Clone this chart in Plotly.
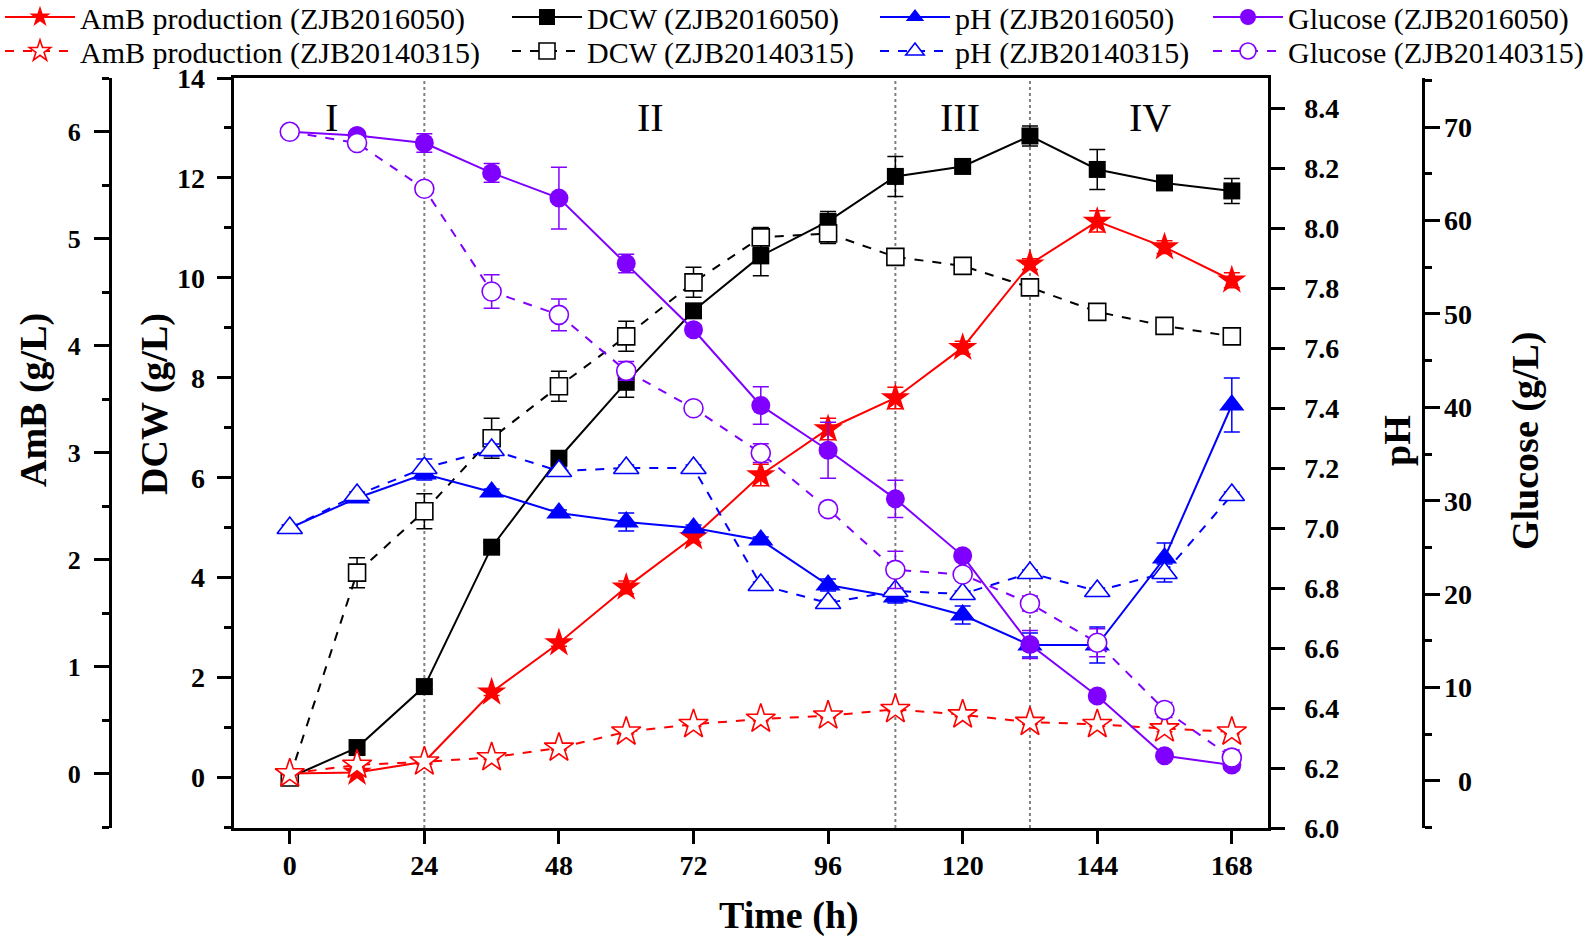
import plotly.graph_objects as go

# ---------------- data ----------------
time_h = [0, 12, 24, 36, 48, 60, 72, 84, 96, 108, 120, 132, 144, 156, 168]

amb_2016050 = [0.0, 0.01, 0.11, 0.76, 1.22, 1.74, 2.21, 2.79, 3.22, 3.51, 3.98, 4.76, 5.16, 4.92, 4.61]
amb_2016050_err = [0.01, 0.02, 0.02, 0.03, 0.03, 0.06, 0.05, 0.1, 0.1, 0.1, 0.06, 0.05, 0.1, 0.06, 0.07]
amb_20140315 = [0.0, 0.08, 0.11, 0.15, 0.24, 0.39, 0.46, 0.51, 0.54, 0.60, 0.55, 0.48, 0.46, 0.42, 0.39]
amb_20140315_err = [0.01, 0.02, 0.02, 0.02, 0.02, 0.02, 0.02, 0.02, 0.02, 0.02, 0.02, 0.02, 0.02, 0.03, 0.02]

dcw_2016050 = [0.0, 0.60, 1.82, 4.61, 6.39, 7.91, 9.34, 10.44, 11.13, 12.03, 12.23, 12.84, 12.17, 11.90, 11.74]
dcw_2016050_err = [0.05, 0.05, 0.05, 0.1, 0.15, 0.3, 0.1, 0.4, 0.2, 0.4, 0.1, 0.2, 0.4, 0.1, 0.25]
dcw_20140315 = [0.0, 4.10, 5.33, 6.79, 7.83, 8.83, 9.91, 10.81, 10.89, 10.42, 10.24, 9.81, 9.32, 9.04, 8.83]
dcw_20140315_err = [0.05, 0.3, 0.35, 0.4, 0.3, 0.3, 0.3, 0.2, 0.2, 0.15, 0.15, 0.05, 0.05, 0.05, 0.1]

ph_2016050 = [7.0, 7.1, 7.18, 7.12, 7.05, 7.02, 7.0, 6.96, 6.81, 6.77, 6.71, 6.61, 6.61, 6.90, 7.41]
ph_2016050_err = [0.01, 0.01, 0.02, 0.01, 0.01, 0.03, 0.01, 0.01, 0.02, 0.02, 0.03, 0.04, 0.06, 0.05, 0.09]
ph_20140315 = [7.0, 7.11, 7.20, 7.26, 7.19, 7.20, 7.20, 6.81, 6.75, 6.79, 6.78, 6.85, 6.79, 6.85, 7.11]
ph_20140315_err = [0.01, 0.01, 0.03, 0.02, 0.01, 0.01, 0.01, 0.01, 0.01, 0.01, 0.01, 0.01, 0.01, 0.03, 0.01]

glu_2016050 = [69.5, 69.1, 68.3, 65.1, 62.4, 55.4, 48.3, 40.2, 35.4, 30.2, 24.1, 14.6, 9.1, 2.7, 1.7]
glu_2016050_err = [0.3, 0.5, 1.0, 1.0, 3.3, 1.0, 0.5, 2.0, 3.0, 2.0, 0.5, 1.5, 0.5, 0.3, 0.5]
glu_20140315 = [69.5, 68.3, 63.4, 52.4, 49.9, 43.9, 39.9, 35.1, 29.1, 22.6, 22.1, 19.0, 14.8, 7.6, 2.5]
glu_20140315_err = [0.3, 0.5, 0.5, 1.8, 1.7, 1.0, 0.5, 1.0, 0.5, 2.0, 0.5, 0.8, 1.5, 0.8, 0.8]

x_ticks = [0, 24, 48, 72, 96, 120, 144, 168]
glucose_ticks = [0, 10, 20, 30, 40, 50, 60, 70]
glucose_ticktext = ["\u20070", "10", "20", "30", "40", "50", "60", "70"]
phase_boundaries = [24, 108, 132]
phase_labels = ["I", "II", "III", "IV"]
phase_label_time = [7.4, 64.4, 119.5, 153.4]

# ---------------- styling ----------------
RED = "#FF0000"
BLACK = "#000000"
BLUE = "#0000FF"
PURPLE = "#8000FF"
SERIF = "Liberation Serif"

W, H = 1594, 938
ML, MR, MT, MB = 2, 2, 78, 110
PW = W - ML - MR
PH = H - MT - MB


def px_x(page_px):
    return (page_px - ML) / PW


def px_y(page_py):
    return (H - MB - page_py) / PH


fig = go.Figure()


def add_series(y, err, name, color, symbol, size, dash, yaxis, legend, open_marker):
    marker = dict(symbol=symbol, size=size, color="white" if open_marker else color,
                  line=dict(color=color, width=1.6 if open_marker else 0))
    fig.add_trace(go.Scatter(
        x=time_h, y=y, name=name, mode="lines+markers",
        line=dict(color=color, width=2, dash=dash),
        marker=marker,
        error_y=dict(type="data", array=err, visible=True, color=color, thickness=1.5, width=8),
        yaxis=yaxis, legend=legend, cliponaxis=False,
    ))


# solid series first, then dashed ones (open markers drawn on top)
add_series(amb_2016050, amb_2016050_err, "AmB production (ZJB2016050)", RED, "star", 22, "solid", "y2", "legend", False)
add_series(dcw_2016050, dcw_2016050_err, "DCW (ZJB2016050)", BLACK, "square", 17, "solid", "y", "legend2", False)
add_series(ph_2016050, ph_2016050_err, "pH (ZJB2016050)", BLUE, "triangle-up", 22, "solid", "y3", "legend3", False)
add_series(glu_2016050, glu_2016050_err, "Glucose (ZJB2016050)", PURPLE, "circle", 19, "solid", "y4", "legend4", False)
add_series(amb_20140315, amb_20140315_err, "AmB production (ZJB20140315)", RED, "star", 22, "dash", "y2", "legend5", True)
add_series(dcw_20140315, dcw_20140315_err, "DCW (ZJB20140315)", BLACK, "square", 17, "dash", "y", "legend6", True)
add_series(ph_20140315, ph_20140315_err, "pH (ZJB20140315)", BLUE, "triangle-up", 22, "dash", "y3", "legend7", True)
add_series(glu_20140315, glu_20140315_err, "Glucose (ZJB20140315)", PURPLE, "circle", 19, "dash", "y4", "legend8", True)

tick_font = dict(family=SERIF, size=28, color="black", weight="bold")
axis_common = dict(showgrid=False, zeroline=False, linecolor="black", linewidth=3,
                   ticks="outside", tickwidth=3, tickcolor="black", showline=True)

x_dom = [px_x(233.7), px_x(1267.7)]

fig.update_layout(
    width=W, height=H,
    margin=dict(l=ML, r=MR, t=MT, b=MB, autoexpand=False),
    paper_bgcolor="white", plot_bgcolor="white",
    xaxis=dict(domain=x_dom, range=[-10, 174.4], tickvals=x_ticks, ticklen=13,
               tickfont=tick_font, mirror=True, ticklabelstandoff=-3, **axis_common),
    yaxis=dict(range=[-1.01, 14], dtick=2, tick0=0, ticklen=14, tickfont=tick_font,
               minor=dict(dtick=1, ticklen=7, tickwidth=3, ticks="outside", tickcolor="black"),
               ticklabelstandoff=6, **axis_common),
    yaxis2=dict(overlaying="y", anchor="free", position=px_x(110), side="left",
                range=[-0.509, 6.5], dtick=1, tick0=0, ticklen=15,
                tickfont=dict(family=SERIF, size=26, color="black", weight="bold"),
                minor=dict(dtick=0.5, ticklen=7, tickwidth=3, ticks="outside", tickcolor="black"),
                ticklabelstandoff=8, **axis_common),
    yaxis3=dict(overlaying="y", anchor="x", side="right", range=[6.0, 8.5], dtick=0.2, tick0=6.0,
                tickformat=".1f", ticklen=14, tickfont=tick_font, ticklabelstandoff=14, **axis_common),
    yaxis4=dict(overlaying="y", anchor="free", position=px_x(1423.3), side="right",
                range=[-5.04, 75.26], tickvals=glucose_ticks, ticktext=glucose_ticktext,
                ticklen=15, tickfont=tick_font,
                minor=dict(dtick=5, ticklen=7, tickwidth=3, ticks="outside", tickcolor="black"),
                ticklabelstandoff=-2, **axis_common),
    showlegend=True,
)

legend_font = dict(family=SERIF, size=30, color="black")
legend_cols_page = [0, 507, 875, 1208]
legend_rows_page = [17, 51]
k = 0
for r, ly in enumerate(legend_rows_page):
    for c, lx in enumerate(legend_cols_page):
        k += 1
        key = "legend" if k == 1 else f"legend{k}"
        fig.update_layout({key: dict(x=px_x(lx), y=px_y(ly), xanchor="left", yanchor="middle",
                                     orientation="v", font=legend_font, bgcolor="rgba(0,0,0,0)",
                                     itemwidth=70)})

# phase boundary lines
for b in phase_boundaries:
    fig.add_shape(type="line", xref="x", yref="paper", x0=b, x1=b, y0=0, y1=1,
                  line=dict(color="#808080", width=2, dash="dot"), layer="below")

# phase labels
for lab, t in zip(phase_labels, phase_label_time):
    fig.add_annotation(x=t, y=px_y(117), xref="x", yref="paper", text=lab, showarrow=False,
                       xanchor="center", yanchor="middle",
                       font=dict(family=SERIF, size=40, color="black"))

title_font = dict(family=SERIF, size=38, color="black", weight="bold")
titles = [("AmB (g/L)", 33, 400, -90), ("DCW (g/L)", 154, 404, -90), ("pH", 1397, 441, -90),
          ("Glucose (g/L)", 1525, 441, -90), ("Time (h)", 789, 915, 0)]
for txt, tx, ty, ang in titles:
    fig.add_annotation(x=px_x(tx), y=px_y(ty), xref="paper", yref="paper", text=txt,
                       textangle=ang, showarrow=False, xanchor="center", yanchor="middle",
                       font=title_font)

fig.write_html("out.html", config={"displayModeBar": False},
               post_script="document.body.style.margin='0';document.body.style.overflow='hidden';")
